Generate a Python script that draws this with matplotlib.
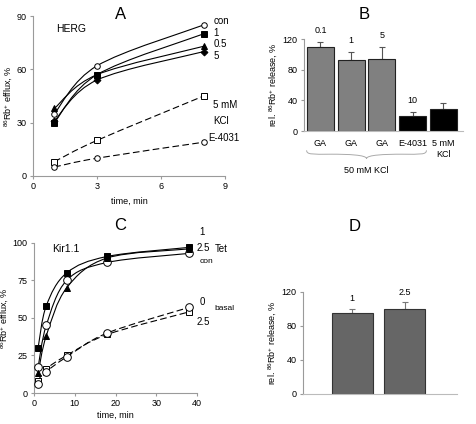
import matplotlib
matplotlib.use("Agg")
import matplotlib.pyplot as plt
from matplotlib.path import Path
from matplotlib.patches import PathPatch
import matplotlib.transforms as mtransforms

plt.rcParams['font.family'] = ['Liberation Sans', 'DejaVu Sans']
plt.rcParams['mathtext.default'] = 'regular'
plt.rcParams['font.size'] = 6.5

# ---- panel A data (HERG) ----
t_a = [1, 3, 8]
a_con = [35, 62, 85]
a_1 = [30, 57, 80]
a_05 = [38, 57, 73]
a_5 = [31, 54, 70]
a_kcl5 = [8, 20, 45]
a_e4031 = [5, 10, 19]

# ---- panel B data ----
b_labels = ['GA', 'GA', 'GA', 'E-4031', '5 mM\nKCl']
b_top = ['0.1', '1', '5', '10', '']
b_vals = [110, 93, 94, 19, 29]
b_err = [6, 10, 15, 6, 7]
b_cols = ['#808080', '#808080', '#808080', 'black', 'black']

# ---- panel C data (Kir1.1) ----
t_c = [1, 3, 8, 18, 38]
c_tet1 = [30, 58, 80, 91, 97]
c_tet25 = [13, 38, 70, 90, 96]
c_con = [17, 45, 75, 87, 93]
c_bas0 = [6, 14, 24, 40, 57]
c_bas25 = [8, 16, 25, 39, 54]

# ---- panel D data ----
d_top = ['1', '2.5']
d_vals = [95, 100]
d_err = [5, 8]

AXC = '#9a9a9a'


def smooth_path(x, y):
    # excel-like smoothed line: cubic bezier through the points
    pts = list(zip(x, y))
    verts = [pts[0]]
    codes = [Path.MOVETO]
    n = len(pts)
    for i in range(n - 1):
        p0 = pts[i - 1] if i > 0 else pts[i]
        p1 = pts[i]
        p2 = pts[i + 1]
        p3 = pts[i + 2] if i + 2 < n else pts[i + 1]
        c1 = (p1[0] + (p2[0] - p0[0]) / 6, p1[1] + (p2[1] - p0[1]) / 6)
        c2 = (p2[0] - (p3[0] - p1[0]) / 6, p2[1] - (p3[1] - p1[1]) / 6)
        verts += [c1, c2, p2]
        codes += [Path.CURVE4] * 3
    return Path(verts, codes)


def series(ax, x, y, marker, filled, ls='-', ms=4):
    ax.add_patch(PathPatch(smooth_path(x, y), fill=False, lw=0.8,
                           ls=(0, (6, 3)) if ls == '--' else '-', ec='black', zorder=2))
    ax.plot(x, y, ls='none', marker=marker, ms=ms, mec='black', mew=0.7,
            mfc='black' if filled else 'white', zorder=3)


def style_axes(ax):
    for s in ['top', 'right']:
        ax.spines[s].set_visible(False)
    for s in ['left', 'bottom']:
        ax.spines[s].set_color(AXC)
        ax.spines[s].set_linewidth(0.8)
    ax.tick_params(colors=AXC, labelcolor='black', length=2.5, width=0.8,
                   labelsize=6.5, pad=2)


fig = plt.figure(figsize=(4.77, 4.24), dpi=100)

# ===== A =====
ax = fig.add_axes([0.069, 0.585, 0.4025, 0.377])
style_axes(ax)
series(ax, t_a, a_con, 'o', False)
series(ax, t_a, a_1, 's', True)
series(ax, t_a, a_05, '^', True)
series(ax, t_a, a_5, 'D', True, ms=3.5)
series(ax, t_a, a_kcl5, 's', False, '--')
series(ax, t_a, a_e4031, 'o', False, '--')
ax.set_xlim(0, 9)
ax.set_ylim(0, 90)
ax.set_xticks([0, 3, 6, 9])
ax.set_yticks([0, 30, 60, 90])
ax.set_xlabel('time, min', fontsize=6.5, labelpad=4)
ax.set_ylabel(r'$^{86}$Rb$^{+}$ efflux, %', fontsize=6.5, labelpad=1)
ax.text(1.1, 82.7, 'HERG', fontsize=7.5, va='center')
for txt, yy in [('con', 87), ('1', 80.5), ('0.5', 74.2), ('5', 67.5),
                ('5 mM', 40), ('KCl', 31)]:
    ax.text(8.45, yy, txt, fontsize=7, va='center', clip_on=False)
ax.text(8.2, 21.4, 'E-4031', fontsize=7, va='center', clip_on=False)
fig.text(0.252, 0.965, 'A', fontsize=12, ha='center', va='center')

# ===== B =====
ax = fig.add_axes([0.637, 0.691, 0.333, 0.217])
style_axes(ax)
xb = list(range(len(b_vals)))
ax.bar(xb, b_vals, width=0.88, color=b_cols, edgecolor='#222222', linewidth=0.8, zorder=2)
ax.errorbar(xb, b_vals, yerr=[[0] * len(b_err), b_err], fmt='none', ecolor='#555555',
            elinewidth=0.8, capsize=2.5, capthick=0.8, zorder=1)
for xi, v, e, lab in zip(xb, b_vals, b_err, b_top):
    ax.annotate(lab, (xi, v + e), xytext=(0, 5), textcoords='offset points',
                ha='center', va='bottom', fontsize=6.5)
ax.set_xlim(-0.54, 4.63)
ax.set_ylim(0, 120)
ax.set_yticks([0, 40, 80, 120])
ax.set_xticks([])
ax.spines['bottom'].set_color('#bbbbbb')
ax.set_ylabel(r'rel. $^{86}$Rb$^{+}$ release, %', fontsize=6.5, labelpad=2)
trb = mtransforms.blended_transform_factory(ax.transData, ax.transAxes)
for xi, lab in zip(xb, b_labels):
    ax.text(xi, -0.09, lab, transform=trb, ha='center', va='top', fontsize=6.5,
            linespacing=1.3)
# curly brace under the 50 mM KCl groups
x0, x1, yb, h = -0.45, 3.45, -0.21, 0.07
xm = (x0 + x1) / 2
bv = [(x0, yb), (x0, yb - h * 0.7), (x0 + 0.2, yb - h * 0.6), (x0 + 0.8, yb - h * 0.6),
      (xm - 0.6, yb - h * 0.6), (xm, yb - h * 0.7), (xm, yb - h * 1.3),
      (xm, yb - h * 0.7), (xm + 0.6, yb - h * 0.6), (x1 - 0.8, yb - h * 0.6),
      (x1 - 0.2, yb - h * 0.6), (x1, yb - h * 0.7), (x1, yb)]
bc = [Path.MOVETO] + [Path.CURVE4] * 12
ax.add_patch(PathPatch(Path(bv, bc), fill=False, ec='#aaaaaa', lw=0.7,
                       transform=trb, clip_on=False))
ax.text(xm, -0.38, '50 mM KCl', transform=trb, ha='center', va='top', fontsize=6.5)
fig.text(0.763, 0.965, 'B', fontsize=12, ha='center', va='center')

# ===== C =====
ax = fig.add_axes([0.0713, 0.0731, 0.3417, 0.354])
style_axes(ax)
series(ax, t_c, c_con, 'o', False, ms=5.5)
series(ax, t_c, c_tet25, '^', True, ms=4.5)
series(ax, t_c, c_tet1, 's', True, ms=4.5)
series(ax, t_c, c_bas25, 's', False, '--', ms=4.5)
series(ax, t_c, c_bas0, 'o', False, '--', ms=5.5)
ax.set_xlim(0, 40)
ax.set_ylim(0, 100)
ax.set_xticks([0, 10, 20, 30, 40])
ax.set_yticks([0, 25, 50, 75, 100])
ax.set_xlabel('time, min', fontsize=6.5, labelpad=2)
ax.set_ylabel(r'$^{86}$Rb$^{+}$ efflux, %', fontsize=6.5, labelpad=1)
ax.text(4.4, 96, 'Kir1.1', fontsize=7.5, va='center')
for txt, xx, yy in [('1', 40.5, 107.3), ('2.5', 40.0, 96.7), ('Tet', 44.4, 96),
                    ('con', 40.7, 87.3), ('0', 40.7, 60.7), ('basal', 44.2, 56),
                    ('2.5', 40.0, 47.3)]:
    ax.text(xx, yy, txt, fontsize=7 if txt not in ('con', 'basal') else 6,
            va='center', clip_on=False)
fig.text(0.252, 0.467, 'C', fontsize=12, ha='center', va='center')

# ===== D =====
ax = fig.add_axes([0.635, 0.071, 0.323, 0.2406])
style_axes(ax)
xd = list(range(len(d_vals)))
ax.bar(xd, d_vals, width=0.78, color='#666666', edgecolor='#333333', linewidth=0.8, zorder=2)
ax.errorbar(xd, d_vals, yerr=[[0] * len(d_err), d_err], fmt='none', ecolor='#777777',
            elinewidth=0.8, capsize=2.5, capthick=0.8, zorder=1)
for xi, v, e, lab in zip(xd, d_vals, d_err, d_top):
    ax.annotate(lab, (xi, v + e), xytext=(0, 4), textcoords='offset points',
                ha='center', va='bottom', fontsize=6.5)
ax.set_xlim(-0.94, 1.99)
ax.set_ylim(0, 120)
ax.set_yticks([0, 40, 80, 120])
ax.set_xticks([])
ax.spines['bottom'].set_color('#bbbbbb')
ax.set_ylabel(r'rel. $^{86}$Rb$^{+}$ release, %', fontsize=6.5, labelpad=2)
fig.text(0.744, 0.465, 'D', fontsize=12, ha='center', va='center')

fig.savefig('out.png', dpi=100)
